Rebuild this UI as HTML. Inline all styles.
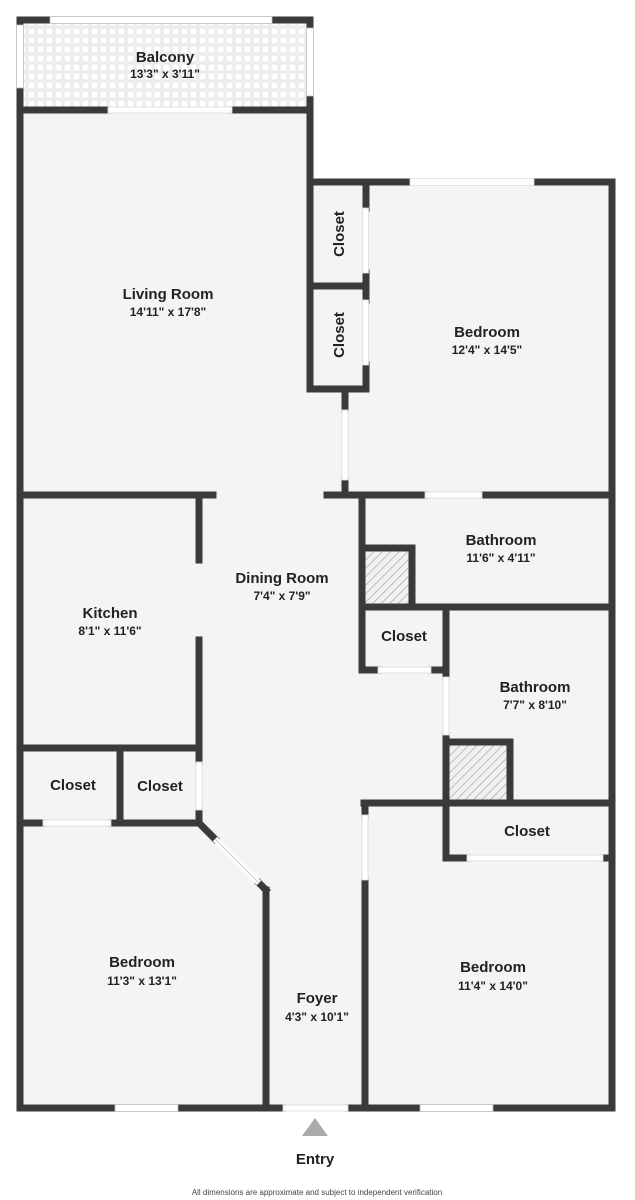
<!DOCTYPE html>
<html><head><style>
html,body{margin:0;padding:0;background:#fff;}
svg{display:block;}
text{font-family:"Liberation Sans",sans-serif;fill:#222;text-anchor:middle;}
.n{font-weight:bold;font-size:15px;}
.d{font-size:12px;font-weight:bold;}
</style></head><body>
<svg width="635" height="1200" viewBox="0 0 635 1200" xmlns="http://www.w3.org/2000/svg">
<defs>
<pattern id="tile" width="9" height="9" patternUnits="userSpaceOnUse">
<rect width="9" height="9" fill="#f4f4f4"/><rect x="1" y="1" width="7" height="7" fill="#fff" stroke="#e2e2e2" stroke-width="0.8"/>
</pattern>
<pattern id="hatch" width="6" height="6" patternUnits="userSpaceOnUse" patternTransform="rotate(45)">
<rect width="6" height="6" fill="#f0f0f0"/><line x1="0" y1="0" x2="0" y2="6" stroke="#999" stroke-width="1.2"/>
</pattern>
</defs>
<!-- floors -->
<rect x="20" y="20" width="290" height="90" fill="url(#tile)"/>
<polygon points="20,110 310,110 310,182 612,182 612,1108 20,1108" fill="#f4f4f4"/>
<rect x="362" y="550" width="48" height="55" fill="url(#hatch)"/>
<rect x="449" y="743" width="60" height="58" fill="url(#hatch)"/>
<g stroke="#3a3a3a" stroke-width="7" stroke-linecap="square" fill="none">
<!-- balcony -->
<line x1="20" y1="20" x2="310" y2="20"/>
<line x1="20" y1="20" x2="20" y2="1108"/>
<line x1="310" y1="20" x2="310" y2="182"/>
<line x1="20" y1="110" x2="108" y2="110"/>
<line x1="232" y1="110" x2="310" y2="110"/>
<!-- right bedroom top & right -->
<line x1="310" y1="182" x2="612" y2="182"/>
<line x1="612" y1="182" x2="612" y2="1108"/>
<!-- closets -->
<line x1="310" y1="182" x2="310" y2="389"/>
<line x1="310" y1="389" x2="366" y2="389"/>
<line x1="310" y1="286" x2="366" y2="286"/>
<line x1="366" y1="182" x2="366" y2="208"/>
<line x1="366" y1="273" x2="366" y2="300"/>
<line x1="366" y1="365" x2="366" y2="389"/>
<line x1="345" y1="389" x2="345" y2="410"/>
<line x1="345" y1="480" x2="345" y2="495"/>
<!-- row y=495 -->
<line x1="20" y1="495" x2="213" y2="495"/>
<line x1="327" y1="495" x2="425" y2="495"/>
<line x1="482" y1="495" x2="612" y2="495"/>
<!-- bathroom 1 -->
<line x1="362" y1="495" x2="362" y2="670"/>
<line x1="362" y1="548" x2="412" y2="548"/>
<line x1="412" y1="548" x2="412" y2="607"/>
<line x1="362" y1="607" x2="612" y2="607"/>
<!-- closet -->
<line x1="446" y1="607" x2="446" y2="677"/>
<line x1="362" y1="670" x2="378" y2="670"/>
<line x1="431" y1="670" x2="446" y2="670"/>
<!-- bathroom 2 -->
<line x1="446" y1="735" x2="446" y2="858"/>
<line x1="446" y1="742" x2="510" y2="742"/>
<line x1="510" y1="742" x2="510" y2="803"/>
<line x1="364" y1="803" x2="612" y2="803"/>
<line x1="446" y1="858" x2="467" y2="858"/>
<line x1="603" y1="858" x2="612" y2="858"/>
<!-- bedroom 3 left -->
<line x1="365" y1="803" x2="365" y2="815"/>
<line x1="365" y1="880" x2="365" y2="1108"/>
<!-- kitchen -->
<line x1="199" y1="495" x2="199" y2="560"/>
<line x1="199" y1="640" x2="199" y2="762"/>
<line x1="20" y1="748" x2="199" y2="748"/>
<line x1="120" y1="748" x2="120" y2="823"/>
<line x1="20" y1="823" x2="43" y2="823"/>
<line x1="111" y1="823" x2="199" y2="823"/>
<line x1="199" y1="810" x2="199" y2="823"/>
<line x1="199" y1="823" x2="215" y2="839"/>
<line x1="259" y1="883" x2="266" y2="890"/>
<line x1="266" y1="890" x2="266" y2="1108"/>
<!-- bottom -->
<line x1="20" y1="1108" x2="115" y2="1108"/>
<line x1="178" y1="1108" x2="283" y2="1108"/>
<line x1="348" y1="1108" x2="420" y2="1108"/>
<line x1="493" y1="1108" x2="612" y2="1108"/>
</g>
<!-- windows / doors -->
<g fill="#fff" stroke="#bbb" stroke-width="0.8">
<rect x="50" y="16.5" width="222" height="7"/>
<rect x="16.5" y="25" width="7" height="63"/>
<rect x="306.5" y="28" width="7" height="68"/>
<rect x="108" y="107" width="124" height="6" stroke="#ddd"/>
<rect x="362.5" y="208" width="6" height="65" stroke="#ddd"/>
<rect x="362.5" y="300" width="6" height="65" stroke="#ddd"/>
<rect x="410" y="178.5" width="124" height="7" stroke="#ddd"/>
<rect x="342" y="410" width="6" height="70" stroke="#ddd"/>
<rect x="425" y="492" width="57" height="6" stroke="#ddd"/>
<rect x="378" y="667" width="53" height="6" stroke="#ddd"/>
<rect x="443" y="677" width="6" height="58" stroke="#ddd"/>
<rect x="467" y="855" width="136" height="6" stroke="#ddd"/>
<rect x="362" y="815" width="6" height="65" stroke="#ddd"/>
<rect x="196" y="762" width="6" height="48" stroke="#ddd"/>
<rect x="43" y="820" width="68" height="6" stroke="#ddd"/>
<rect x="115" y="1104.5" width="63" height="7"/>
<rect x="283" y="1105" width="65" height="6" stroke="#ddd"/>
<rect x="420" y="1104.5" width="73" height="7"/>
</g>
<line x1="215" y1="839" x2="259" y2="883" stroke="#fff" stroke-width="6"/>
<line x1="215" y1="839" x2="259" y2="883" stroke="#ccc" stroke-width="1"/>
<polygon points="315,1118 302,1136 328,1136" fill="#aaa"/>
<!-- labels -->
<text class="n" x="165" y="62">Balcony</text><text class="d" x="165" y="78">13'3" x 3'11"</text>
<text class="n" x="168" y="299">Living Room</text><text class="d" x="168" y="316">14'11" x 17'8"</text>
<text class="n" x="487" y="337">Bedroom</text><text class="d" x="487" y="354">12'4" x 14'5"</text>
<text class="n" transform="translate(344,234) rotate(-90)">Closet</text>
<text class="n" transform="translate(344,335) rotate(-90)">Closet</text>
<text class="n" x="501" y="545">Bathroom</text><text class="d" x="501" y="562">11'6" x 4'11"</text>
<text class="n" x="282" y="583">Dining Room</text><text class="d" x="282" y="600">7'4" x 7'9"</text>
<text class="n" x="110" y="618">Kitchen</text><text class="d" x="110" y="635">8'1" x 11'6"</text>
<text class="n" x="404" y="641">Closet</text>
<text class="n" x="535" y="692">Bathroom</text><text class="d" x="535" y="709">7'7" x 8'10"</text>
<text class="n" x="73" y="790">Closet</text>
<text class="n" x="160" y="791">Closet</text>
<text class="n" x="527" y="836">Closet</text>
<text class="n" x="142" y="967">Bedroom</text><text class="d" x="142" y="985">11'3" x 13'1"</text>
<text class="n" x="493" y="972">Bedroom</text><text class="d" x="493" y="990">11'4" x 14'0"</text>
<text class="n" x="317" y="1003">Foyer</text><text class="d" x="317" y="1021">4'3" x 10'1"</text>
<text class="n" x="315" y="1164">Entry</text>
<text x="317" y="1195" style="font-size:8px;fill:#444">All dimensions are approximate and subject to independent verification</text>
</svg>
</body></html>
